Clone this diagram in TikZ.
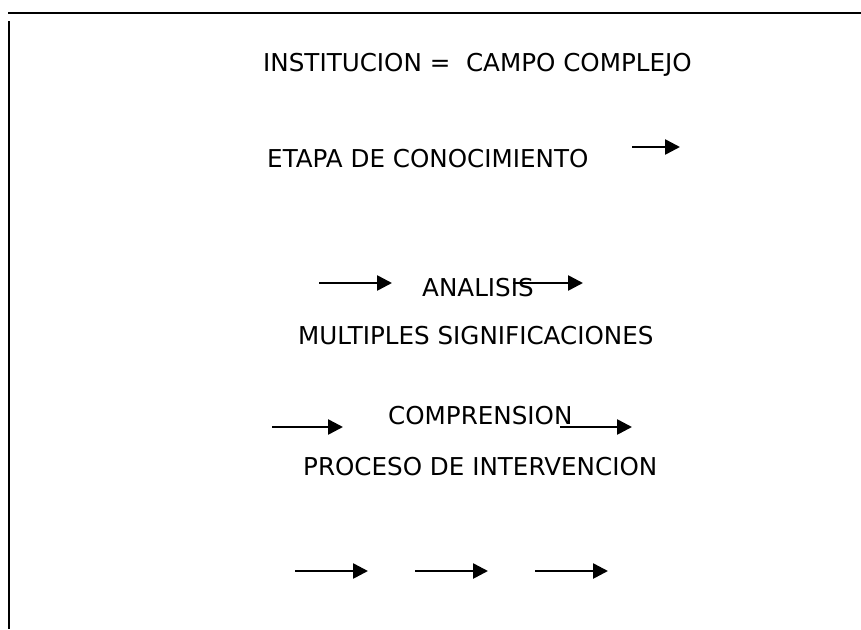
\documentclass[tikz,border=0pt]{standalone}
\usepackage{fontspec}
\setmainfont{DejaVu Sans}
\usetikzlibrary{arrows.meta}

\tikzset{
  word/.style={anchor=west, inner sep=0pt, text height=18pt, text depth=0pt,
    font=\fontsize{24.6}{28}\selectfont},
  flow/.style={->, line width=2.6pt}
}

\begin{document}
\begin{tikzpicture}[x=1pt, y=-1pt, >={Triangle[length=15pt,width=15pt]}]
\useasboundingbox (0,0) rectangle (861,629);

% frame lines
\draw[line width=2.8pt] (8,13) -- (861,13);
\draw[line width=2pt] (9,21) -- (9,629);

% the texts
\node[word] (inst) at (263,62) {INSTITUCION =\ \ CAMPO COMPLEJO};
\node[word] (etapa) at (267,158) {ETAPA DE CONOCIMIENTO};
\node[word] (analisis) at (422,287) {ANALISIS};
\node[word] (multi) at (298,335) {MULTIPLES SIGNIFICACIONES};
\node[word] (compr) at (388,415) {COMPRENSION};
\node[word] (proceso) at (303,466) {PROCESO DE INTERVENCION};

% the arrows
\foreach \name/\xa/\xb/\y in {
etapa/632/680/147,
analisisA/319/392/283,
analisisB/513/583/283,
comprA/272/343/427,
comprB/560/632/427,
finA/295/368/571,
finB/415/488/571,
finC/535/608/571}
{
\coordinate (\name-a) at (\xa,\y);
\coordinate (\name-b) at (\xb,\y);
\draw[flow] (\name-a) -- (\name-b);
}
\end{tikzpicture}
\end{document}
